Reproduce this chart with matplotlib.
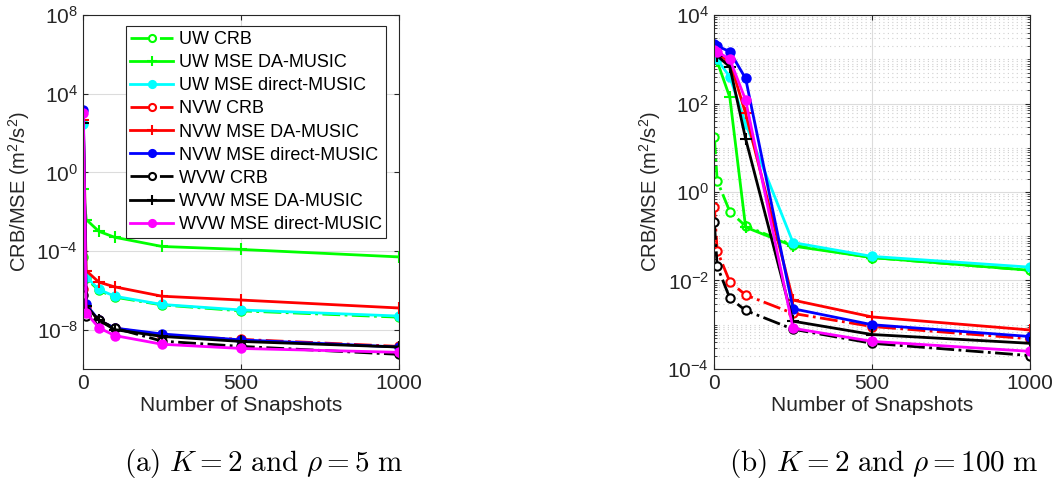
import numpy as np
import matplotlib
matplotlib.use('Agg')
import matplotlib.pyplot as plt
from matplotlib.ticker import LogLocator, FuncFormatter, NullFormatter, FixedLocator

plt.rcParams['font.family'] = ['Liberation Sans', 'DejaVu Sans']
plt.rcParams['mathtext.fontset'] = 'cm'

snapshots = [1, 10, 50, 100, 250, 500, 1000]

names = ['UW CRB', 'UW MSE DA-MUSIC', 'UW MSE direct-MUSIC',
         'NVW CRB', 'NVW MSE DA-MUSIC', 'NVW MSE direct-MUSIC',
         'WVW CRB', 'WVW MSE DA-MUSIC', 'WVW MSE direct-MUSIC']

# (a) rho = 5 m
a_uw_crb = [5e-5, 4e-6, 1e-6, 4.5e-7, 1.8e-7, 9e-8, 4.3e-8]
a_uw_da = [0.14, 4e-3, 1e-3, 5e-4, 1.7e-4, 1.2e-4, 5e-5]
a_uw_dir = [300, 5e-6, 1.1e-6, 5e-7, 1.9e-7, 1e-7, 4.9e-8]
a_nvw_crb = [1.2e-6, 1.5e-7, 3e-8, 1.2e-8, 5e-9, 3.2e-9, 1.4e-9]
a_nvw_da = [460, 1e-5, 2.6e-6, 1.5e-6, 5e-7, 3.2e-7, 1.26e-7]
a_nvw_dir = [1500, 1.9e-7, 3e-8, 1.2e-8, 6e-9, 3e-9, 1.3e-9]
a_wvw_crb = [6e-7, 5e-8, 3e-8, 1.2e-8, 2.6e-9, 1.4e-9, 5.5e-10]
a_wvw_da = [320, 1.6e-7, 3e-8, 1e-8, 4.5e-9, 2.5e-9, 1.3e-9]
a_wvw_dir = [1000, 7e-8, 1.25e-8, 5e-9, 1.8e-9, 1.1e-9, 7e-10]

# (b) rho = 100 m
b_uw_crb = [18, 1.8, 0.36, 0.17, 0.063, 0.033, 0.017]
b_uw_da = [1100, 900, 138, 0.16, 0.06, 0.033, 0.017]
b_uw_dir = [1300, 1000, 400, 35, 0.072, 0.035, 0.02]
b_nvw_crb = [0.47, 0.047, 0.0093, 0.0047, 0.0018, 0.00091, 0.00048]
b_nvw_da = [1500, 1300, 900, 60, 0.0036, 0.0015, 0.00076]
b_nvw_dir = [2200, 2000, 1500, 370, 0.0023, 0.001, 0.00054]
b_wvw_crb = [0.21, 0.021, 0.004, 0.0021, 0.00079, 0.00038, 0.0002]
b_wvw_da = [1400, 1200, 680, 16, 0.0012, 0.0006, 0.00038]
b_wvw_dir = [1600, 1500, 1000, 120, 0.00083, 0.00042, 0.00025]

data_a = [a_uw_crb, a_uw_da, a_uw_dir, a_nvw_crb, a_nvw_da, a_nvw_dir,
          a_wvw_crb, a_wvw_da, a_wvw_dir]
data_b = [b_uw_crb, b_uw_da, b_uw_dir, b_nvw_crb, b_nvw_da, b_nvw_dir,
          b_wvw_crb, b_wvw_da, b_wvw_dir]

colors = ['#00ff00', '#00ff00', '#00ffff', '#ff0000', '#ff0000', '#0000ff',
          'black', 'black', '#ff00ff']
kinds = ['crb', 'da', 'dir'] * 3


def style(kind, color):
    if kind == 'crb':
        return dict(ls='-.', marker='o', mfc='white', mec=color, ms=6, mew=1.5)
    if kind == 'da':
        return dict(ls='-', marker='+', mec=color, ms=9, mew=1.5)
    return dict(ls='-', marker='o', mfc=color, mec=color, ms=6, mew=1.5)


def exp_fmt(v, pos):
    if v <= 0:
        return ''
    return r'$\mathregular{10^{%d}}$' % int(round(np.log10(v)))


fig = plt.figure(figsize=(10.55, 4.88), dpi=100)
ax1 = fig.add_axes([0.0787, 0.244, 0.2995, 0.725])
ax2 = fig.add_axes([0.6768, 0.244, 0.2995, 0.725])

for ax, data in [(ax1, data_a), (ax2, data_b)]:
    for vals, c, k, n in zip(data, colors, kinds, names):
        ax.plot(snapshots, vals, color=c, lw=2, label=n, **style(k, c))
    ax.set_yscale('log')
    ax.set_xlim(0, 1000)
    ax.set_xticks([0, 500, 1000])
    ax.set_xlabel('Number of Snapshots', fontsize=15, color='#262626', labelpad=2)
    ax.set_ylabel(r'CRB/MSE (m$\mathregular{^2}$/s$\mathregular{^2}$)',
                  fontsize=14.5, color='#262626', labelpad=3)
    ax.tick_params(which='both', direction='in', top=True, right=True,
                   labelsize=15, colors='#262626')
    for s in ax.spines.values():
        s.set_color('#262626')
        s.set_linewidth(0.8)
    ax.yaxis.set_major_formatter(FuncFormatter(exp_fmt))

ax1.set_ylim(1e-10, 1e8)
ax1.yaxis.set_major_locator(FixedLocator([1e-8, 1e-4, 1e0, 1e4, 1e8]))
ax1.yaxis.set_minor_locator(FixedLocator([]))
ax1.grid(True, which='major', color='#dcdcdc', lw=0.8)
ax1.set_axisbelow(True)

ax2.set_ylim(1e-4, 1e4)
ax2.yaxis.set_major_locator(FixedLocator([1e-4, 1e-2, 1e0, 1e2, 1e4]))
ax2.yaxis.set_minor_locator(LogLocator(base=10, subs=np.arange(1, 10), numticks=20))
ax2.yaxis.set_minor_formatter(NullFormatter())
ax2.grid(True, which='major', color='#dcdcdc', lw=0.8)
ax2.grid(True, which='minor', axis='y', color='#d0d0d0', ls=(0, (1, 3)), lw=0.8)
ax2.set_axisbelow(True)

leg = ax1.legend(loc='upper right', bbox_to_anchor=(0.96, 0.968),
                 borderaxespad=0, fontsize=13, fancybox=False, framealpha=1,
                 handlelength=2.4, labelspacing=0.34, handletextpad=0.3,
                 borderpad=0.25, markerscale=0.85)
leg.get_frame().set_edgecolor('#262626')
leg.get_frame().set_linewidth(0.8)

fig.text(0.250, 0.051, r'$\mathrm{(a)}\ K=2\ \mathrm{and}\ \rho=5\ \mathrm{m}$',
         ha='center', va='center', fontsize=21)
fig.text(0.838, 0.051, r'$\mathrm{(b)}\ K=2\ \mathrm{and}\ \rho=100\ \mathrm{m}$',
         ha='center', va='center', fontsize=21)

fig.savefig('out.png', dpi=100)
